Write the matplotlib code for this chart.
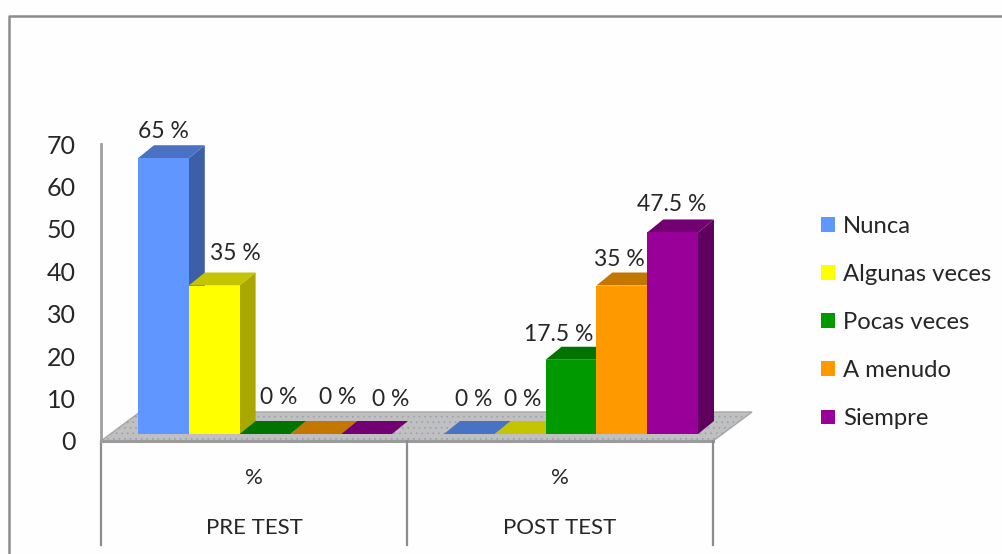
import matplotlib
matplotlib.use('Agg')
import matplotlib.pyplot as plt
from matplotlib.lines import Line2D
from matplotlib.transforms import ScaledTranslation

#---------------------- DATA
groups   = ['PRE TEST','POST TEST']
sublabel = '%'
series   = ['Nunca','Algunas veces','Pocas veces','A menudo','Siempre']
nunca    = [65,0]
algunas  = [35,0]
pocas    = [0,17.5]
menudo   = [0,35]
siempre  = [0,47.5]
values   = [nunca,algunas,pocas,menudo,siempre]
labels   = [['65 %','0 %'],['35 %','0 %'],['0 %','17.5 %'],['0 %','35 %'],['0 %','47.5 %']]
yticks   = [0,10,20,30,40,50,60,70]

front = ['#5F96FF','#FFFF00','#009900','#FF9900','#990099']
top   = ['#4A72C4','#C4C400','#007300','#C47700','#730073']
side  = ['#3D5FA8','#A8A800','#006000','#A86600','#5F005F']

# label nudges in pixels from the top centre of the bar front
nudge = [[(0,27),(4,34)],[(21,32),(2,34)],[(14,37),(-12,25)],[(22,36),(-2,26)],[(24,34),(-1,28)]]

#---------------------- GEOMETRY (pixels -> data)
W, H = 1003, 554
x0, x1 = 101, 713
y0, y1 = 441, 144
sx = (x1-x0)/2.0      # px per category
sy = (y0-y1)/70.0     # px per unit

plt.rcParams['font.family'] = ['Lato','DejaVu Sans']
plt.rcParams['hatch.linewidth'] = 0.5
fig = plt.figure(figsize=(W/100.,H/100.),dpi=100,facecolor='#FEFEFE')
ax  = fig.add_axes([x0/W,(H-y0)/H,(x1-x0)/W,(y0-y1)/H])
ax.set_xlim(0,2); ax.set_ylim(0,70)
ax.patch.set_visible(False)

def px(dx): return dx/sx
def py(dy): return dy/sy

##------floor
fdx, fdy = px(39), py(29)
ax.fill([0,2,2+fdx,fdx],[0,0,fdy,fdy],facecolor='#C0C0C0',edgecolor='#A6A6A6',
        linewidth=1,clip_on=False,zorder=1)
ax.fill([0,2,2+fdx,fdx],[0,0,fdy,fdy],facecolor='none',edgecolor='#98A0B4',hatch='...',
        linewidth=0,clip_on=False,zorder=1.1)
ax.plot([0,2],[0,0],color='#9A9A9A',lw=2.2,clip_on=False,zorder=1.2)

##------bars
bw    = px(50.8)
start = px(37)
base  = py(7)
ddx, ddy = px(16), py(13)
handles = []
z = 2
for g in range(len(groups)):
    for s in range(len(series)):
        v = values[s][g]
        l = g + start + s*bw
        r = l + bw
        t = base + v
        if v > 0:
            ax.fill([r,r+ddx,r+ddx,r],[base,base+ddy,t+ddy,t],color=side[s],lw=0,clip_on=False,zorder=z)
        ax.fill([l,l+ddx,r+ddx,r],[t,t+ddy,t+ddy,t],color=top[s],lw=0,clip_on=False,zorder=z+.1)
        b = ax.bar(l,v,bw,bottom=base,align='edge',color=front[s],clip_on=False,zorder=z+.2)
        if g == 0:
            handles.append(b[0])
        offs = ScaledTranslation(nudge[s][g][0]/100.,nudge[s][g][1]/100.,fig.dpi_scale_trans)
        ax.text(l+bw/2,t,labels[s][g],transform=ax.transData+offs,ha='center',va='center',
                fontsize=16.5,color='#262626',zorder=30)
        z += 1

##-----------axes
for k in ['top','right','bottom']:
    ax.spines[k].set_visible(False)
ax.spines['left'].set_color('#A0A0A0')
ax.spines['left'].set_linewidth(2)
ax.set_yticks(yticks)
ax.set_yticklabels([str(t) for t in yticks],fontsize=18,color='#262626')
ax.tick_params(axis='y',length=0,pad=18)
ax.set_xticks([])

# table under the axis
for i in range(len(groups)+1):
    ax.plot([i,i],[0,py(-104)],color='#8C8C8C',lw=1.6,clip_on=False,zorder=1.3)
for i in range(len(groups)):
    ax.text(i+.5,py(-37),sublabel,ha='center',va='center',fontsize=16,color='#262626')
    ax.text(i+.5,py(-87),groups[i],ha='center',va='center',fontsize=16,color='#262626')

##-----------legend
leg = fig.legend(handles,series,loc='upper left',bbox_to_anchor=(821/W,1-216/H),frameon=False,
                 fontsize=17.2,handlelength=0.58,handleheight=0.58,handletextpad=0.33,
                 labelspacing=1.135,labelcolor='#262626',borderpad=0,borderaxespad=0)

##-----------outer frame
fig.add_artist(Line2D([9.5/W,9.5/W,1],[0,1-15.5/H,1-15.5/H],color='#8C8C8C',lw=1.8))

plt.savefig('out.png',dpi=100,facecolor=fig.get_facecolor())
